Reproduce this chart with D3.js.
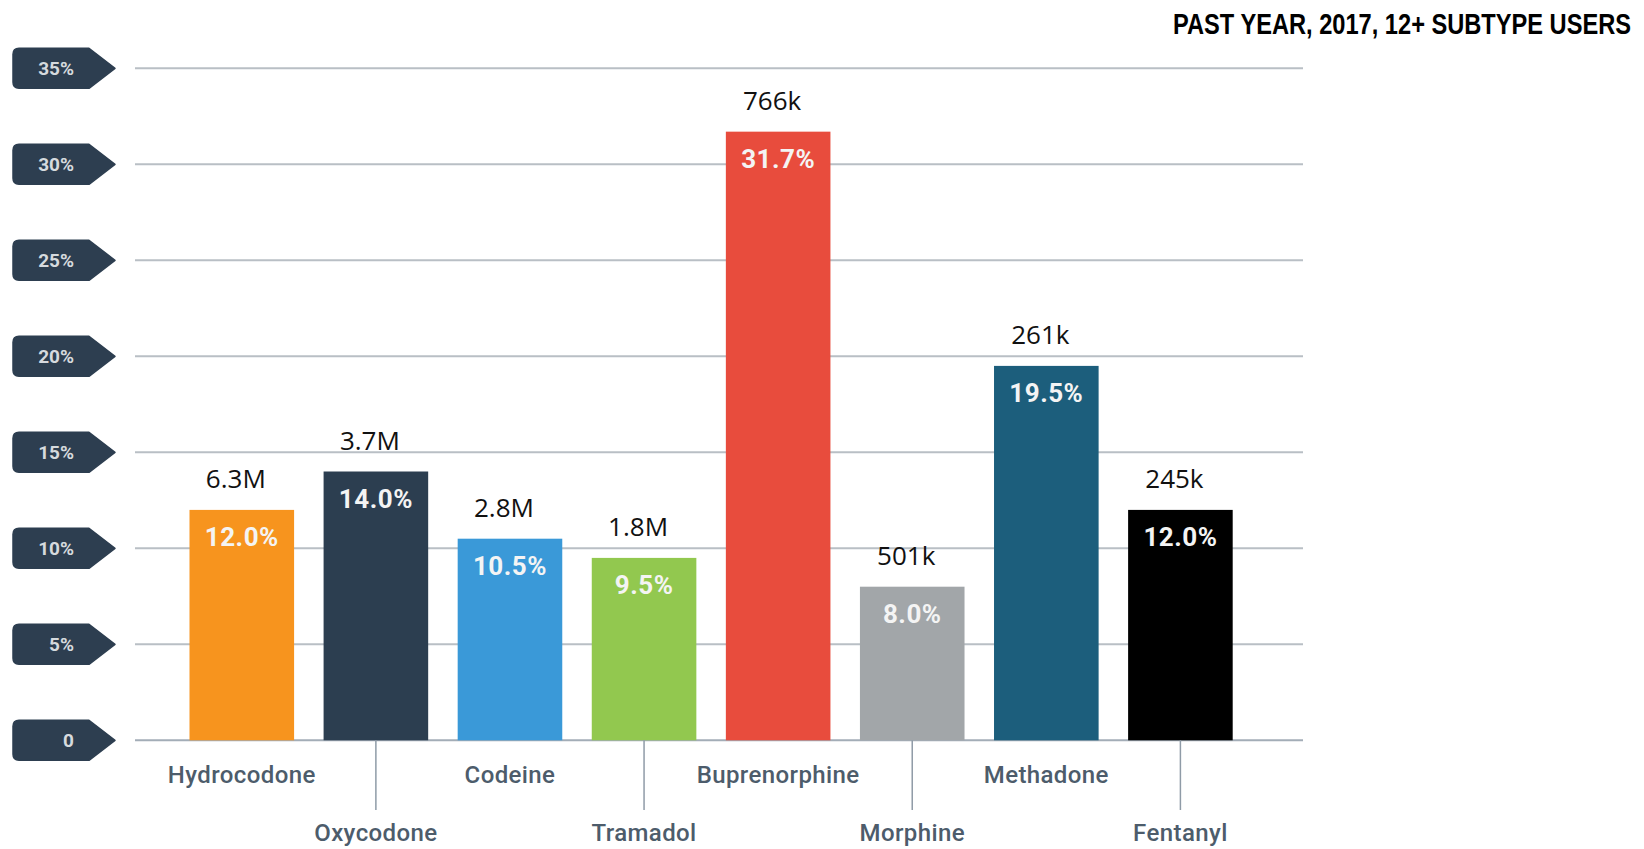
<!DOCTYPE html>
<html>
<head>
<meta charset="utf-8">
<script src="https://cdn.jsdelivr.net/npm/d3@7/dist/d3.min.js"></script>
<style>
  html, body { margin: 0; padding: 0; background: #ffffff; }
  svg { display: block; }
</style>
</head>
<body>
<svg id="chart" width="1644" height="849"></svg>
<script>
// Opioid subtypes, past-year use among people 12+ (2017)
const categories = ["Hydrocodone", "Oxycodone", "Codeine", "Tramadol", "Buprenorphine", "Morphine", "Methadone", "Fentanyl"];
const shares = [12.0, 14.0, 10.5, 9.5, 31.7, 8.0, 19.5, 12.0];
const userCounts = ["6.3M", "3.7M", "2.8M", "1.8M", "766k", "501k", "261k", "245k"];
const barColors = ["#f7941e", "#2c3e50", "#3a99d8", "#92c84f", "#e84c3d", "#a2a6a9", "#1c5e7c", "#000000"];
const yTickValues = [0, 5, 10, 15, 20, 25, 30, 35];
const yTickLabels = ["0", "5%", "10%", "15%", "20%", "25%", "30%", "35%"];
const titleText = "PAST YEAR, 2017, 12+ SUBTYPE USERS";

const svg = d3.select("#chart");

const x = d3.scaleBand()
  .domain(categories)
  .range([189.5, 1232.7])
  .paddingInner(0.22)
  .paddingOuter(0);

const y = d3.scaleLinear()
  .domain([0, 35])
  .range([740.3, 68.3]);

const gridLeft = 135, gridRight = 1303;

// Horizontal grid lines
svg.append("g")
  .selectAll("line")
  .data(yTickValues)
  .join("line")
  .attr("x1", gridLeft)
  .attr("x2", gridRight)
  .attr("y1", d => y(d))
  .attr("y2", d => y(d))
  .attr("stroke", d => d === 0 ? "#a3adb7" : "#b9bfc5")
  .attr("stroke-width", 2);

// Y-axis tag labels (pentagon badges)
const tagLeft = 13, tagBody = 89, tagTip = 115, tagHalf = 20, r = 6;
const tagPath = `M${tagLeft + r},${-tagHalf} L${tagBody},${-tagHalf} L${tagTip},0 L${tagBody},${tagHalf} L${tagLeft + r},${tagHalf} Q${tagLeft},${tagHalf} ${tagLeft},${tagHalf - r} L${tagLeft},${-tagHalf + r} Q${tagLeft},${-tagHalf} ${tagLeft + r},${-tagHalf} Z`;

const tags = svg.append("g")
  .selectAll("g")
  .data(yTickValues)
  .join("g")
  .attr("transform", d => `translate(0,${y(d)})`);

tags.append("path")
  .attr("d", tagPath)
  .attr("fill", "#2d3e50")
  .attr("stroke", "#2d3e50")
  .attr("stroke-linejoin", "round")
  .attr("stroke-width", 1.5);

tags.append("text")
  .attr("x", 74)
  .attr("y", 7)
  .attr("text-anchor", "end")
  .attr("font-family", "Roboto, 'DejaVu Sans', sans-serif")
  .attr("font-weight", 700)
  .attr("font-size", 19)
  .attr("fill", "#d6dade")
  .text((d, i) => yTickLabels[i]);

// Bars
svg.append("g")
  .selectAll("rect")
  .data(categories)
  .join("rect")
  .attr("x", d => x(d))
  .attr("width", x.bandwidth())
  .attr("y", (d, i) => y(shares[i]))
  .attr("height", (d, i) => y(0) - y(shares[i]))
  .attr("fill", (d, i) => barColors[i]);

// Percent labels inside bars
svg.append("g")
  .selectAll("text")
  .data(categories)
  .join("text")
  .attr("x", d => x(d) + x.bandwidth() / 2)
  .attr("y", (d, i) => y(shares[i]) + 36)
  .attr("text-anchor", "middle")
  .attr("font-family", "Roboto, 'DejaVu Sans', sans-serif")
  .attr("font-weight", 700)
  .attr("font-size", 26)
  .attr("letter-spacing", 0.5)
  .attr("fill", "#f4f4f4")
  .text((d, i) => shares[i].toFixed(1) + "%");

// User counts above bars
svg.append("g")
  .selectAll("text")
  .data(categories)
  .join("text")
  .attr("x", d => x(d) + x.bandwidth() / 2 - 6)
  .attr("y", (d, i) => y(shares[i]) - 22)
  .attr("text-anchor", "middle")
  .attr("font-family", "'Open Sans', 'Noto Sans', sans-serif")
  .attr("font-weight", 400)
  .attr("font-size", 26)
  .attr("fill", "#111111")
  .text((d, i) => userCounts[i]);

// Leader lines for the staggered lower row of category names
svg.append("g")
  .selectAll("line")
  .data(categories.filter((d, i) => i % 2 === 1))
  .join("line")
  .attr("x1", d => x(d) + x.bandwidth() / 2)
  .attr("x2", d => x(d) + x.bandwidth() / 2)
  .attr("y1", y(0))
  .attr("y2", 810)
  .attr("stroke", "#8f9ba7")
  .attr("stroke-width", 1.5);

// Category names, alternating between two rows
svg.append("g")
  .selectAll("text")
  .data(categories)
  .join("text")
  .attr("x", d => x(d) + x.bandwidth() / 2)
  .attr("y", (d, i) => i % 2 === 0 ? 783 : 841)
  .attr("text-anchor", "middle")
  .attr("font-family", "Roboto, 'DejaVu Sans', sans-serif")
  .attr("font-weight", 500)
  .attr("font-size", 24)
  .attr("letter-spacing", 0.4)
  .attr("fill", "#4d5c6b")
  .text(d => d);

// Title, top right, in a horizontally condensed bold face
svg.append("text")
  .attr("transform", "translate(1631,33.5) scale(0.815,1)")
  .attr("text-anchor", "end")
  .attr("font-family", "'Liberation Sans', Arial, sans-serif")
  .attr("font-weight", 700)
  .attr("font-size", 29)
  .attr("fill", "#000000")
  .text(titleText);
</script>
</body>
</html>
